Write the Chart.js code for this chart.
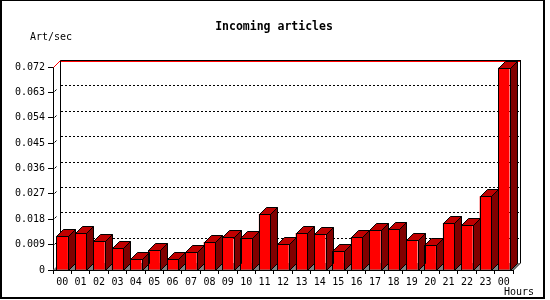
<!DOCTYPE html>
<html>
<head>
<meta charset="utf-8">
<script src="https://cdn.jsdelivr.net/npm/chart.js@4.4.1/dist/chart.umd.min.js"></script>
<style>
    body { margin: 0; background: #fff; }
    #wrap { width: 550px; height: 300px; }
</style>
</head>
<body>
<div id="wrap"><canvas id="articlesChart" width="550" height="300"></canvas></div>
<script>
// Datos del gráfico
const hourLabels = ['00', '01', '02', '03', '04', '05', '06', '07', '08', '09', '10', '11',
    '12', '13', '14', '15', '16', '17', '18', '19', '20', '21', '22', '23', '00'];
const articlesPerSec = [0.0121, 0.0131, 0.0103, 0.0078, 0.0039, 0.0071, 0.0039, 0.0064, 0.0099, 0.0117, 0.0114, 0.0199,
    0.0092, 0.0131, 0.0128, 0.0067, 0.0117, 0.0142, 0.0145, 0.0106, 0.0089, 0.0167, 0.0160, 0.0262, 0.0717];
const yTickLabels = ['0', '0.009', '0.018', '0.027', '0.036', '0.045', '0.054', '0.063', '0.072'];

const DEPTH = 7;
const monoFont = '"DejaVu Sans Mono", "Liberation Mono", monospace';

// Fondo, plano trasero, suelo y rejilla
const backPlanePlugin = {
    id: 'backPlane',
    beforeDraw(chart) {
        const ctx = chart.ctx;
        ctx.save();
        ctx.fillStyle = '#fff';
        ctx.fillRect(0, 0, chart.width, chart.height);
        // marco exterior
        ctx.fillStyle = '#000';
        ctx.fillRect(0, 0, 2, 299);
        ctx.fillRect(0, 0, 545, 1);
        ctx.fillRect(543, 0, 2, 299);
        ctx.fillRect(0, 297, 545, 2);
        ctx.restore();
    },
    beforeDatasetsDraw(chart) {
        const ctx = chart.ctx;
        const area = chart.chartArea;
        const yScale = chart.scales.y;
        const l = Math.round(area.left), r = Math.round(area.right);
        const t = Math.round(area.top), b = Math.round(area.bottom);
        ctx.save();

        // suelo gris
        ctx.fillStyle = '#808080';
        ctx.beginPath();
        ctx.moveTo(l, b);
        ctx.lineTo(r, b);
        ctx.lineTo(r + DEPTH, b - DEPTH);
        ctx.lineTo(l + DEPTH, b - DEPTH);
        ctx.closePath();
        ctx.fill();

        // líneas punteadas
        ctx.strokeStyle = '#000';
        ctx.lineWidth = 1;
        ctx.setLineDash([2, 2]);
        yTickLabels.forEach((lbl, i) => {
            if (i === 0 || i === yTickLabels.length - 1) return;
            const y = Math.round(yScale.getPixelForValue(i * 0.009)) - DEPTH + 0.5;
            ctx.beginPath();
            ctx.moveTo(l + DEPTH + 1, y);
            ctx.lineTo(r + DEPTH, y);
            ctx.stroke();
        });
        ctx.setLineDash([]);

        // pequeñas diagonales en cada marca
        yTickLabels.forEach((lbl, i) => {
            if (i === 0 || i === yTickLabels.length - 1) return;
            const y = Math.round(yScale.getPixelForValue(i * 0.009));
            ctx.beginPath();
            ctx.moveTo(l + 1.5, y - 0.5);
            ctx.lineTo(l + 3.5, y - 2.5);
            ctx.stroke();
        });

        // bordes del plano trasero
        ctx.beginPath();
        ctx.moveTo(l + DEPTH + 0.5, b - DEPTH);
        ctx.lineTo(l + DEPTH + 0.5, t - DEPTH);
        ctx.moveTo(r + DEPTH + 0.5, t - DEPTH);
        ctx.lineTo(r + DEPTH + 0.5, b - DEPTH);
        ctx.lineTo(r + 0.5, b);
        ctx.stroke();

        ctx.beginPath();
        ctx.moveTo(l + DEPTH, t - DEPTH + 0.5);
        ctx.lineTo(r + DEPTH + 1, t - DEPTH + 0.5);
        ctx.stroke();
        ctx.strokeStyle = '#f00';
        ctx.beginPath();
        ctx.moveTo(l + DEPTH + 1, t - DEPTH + 1.5);
        ctx.lineTo(r + DEPTH, t - DEPTH + 1.5);
        ctx.stroke();
        ctx.beginPath();
        ctx.moveTo(l + 0.5, t + 0.5);
        ctx.lineTo(l + DEPTH + 0.5, t - DEPTH + 0.5);
        ctx.stroke();
        ctx.restore();
    },
    afterDatasetsDraw(chart) {
        // caras laterales y superiores de las barras
        const ctx = chart.ctx;
        const meta = chart.getDatasetMeta(0);
        ctx.save();
        ctx.strokeStyle = '#000';
        ctx.lineWidth = 1;
        meta.data.forEach(bar => {
            const x0 = Math.round(bar.x - bar.width / 2) + 0.5;
            const x1 = Math.round(bar.x + bar.width / 2) + 0.5;
            const y = Math.round(bar.y) + 0.5;
            const base = Math.round(bar.base) + 0.5;

            ctx.fillStyle = '#800000';
            ctx.beginPath();
            ctx.moveTo(x1, y);
            ctx.lineTo(x1 + DEPTH, y - DEPTH);
            ctx.lineTo(x1 + DEPTH, base - DEPTH);
            ctx.lineTo(x1, base);
            ctx.closePath();
            ctx.fill();
            ctx.stroke();

            ctx.fillStyle = '#c00000';
            ctx.beginPath();
            ctx.moveTo(x0, y);
            ctx.lineTo(x0 + DEPTH, y - DEPTH);
            ctx.lineTo(x1 + DEPTH, y - DEPTH);
            ctx.lineTo(x1, y);
            ctx.closePath();
            ctx.fill();
            ctx.stroke();

            ctx.beginPath();
            ctx.rect(x0, y, x1 - x0, base - y);
            ctx.stroke();
        });
        ctx.restore();
    },
    afterDraw(chart) {
        const ctx = chart.ctx;
        ctx.save();
        ctx.fillStyle = '#000';
        ctx.textBaseline = 'middle';
        ctx.textAlign = 'center';
        ctx.font = 'bold 11.5px ' + monoFont;
        ctx.fillText('Incoming articles', 274, 27);
        ctx.textAlign = 'left';
        ctx.font = '10px ' + monoFont;
        ctx.fillText('Art/sec', 30, 37);
        ctx.fillText('Hours', 504, 292);
        ctx.restore();
    }
};

new Chart(document.getElementById('articlesChart').getContext('2d'), {
    type: 'bar',
    data: {
        labels: hourLabels,
        datasets: [{
            label: 'Art/sec',
            data: articlesPerSec,
            backgroundColor: '#ff0000',
            borderWidth: 0,
            barPercentage: 0.62,
            categoryPercentage: 1.0
        }]
    },
    options: {
        responsive: false,
        animation: false,
        layout: {
            padding: { top: 67, right: 37, left: 0, bottom: 0 }
        },
        plugins: {
            legend: { display: false },
            tooltip: { enabled: false }
        },
        scales: {
            y: {
                min: 0,
                max: 0.072,
                afterFit: function(scale) { scale.width = 53; },
                afterBuildTicks: function(scale) {
                    scale.ticks = yTickLabels.map((lbl, i) => ({ value: i * 0.009 }));
                },
                ticks: {
                    color: '#000',
                    font: { family: monoFont, size: 10 },
                    padding: 3,
                    callback: function(value, index) { return yTickLabels[index]; }
                },
                grid: {
                    drawOnChartArea: false,
                    color: '#000',
                    tickLength: 5
                },
                border: { color: '#000' }
            },
            x: {
                afterFit: function(scale) { scale.height = 30; },
                ticks: {
                    color: '#000',
                    font: { family: monoFont, size: 10 },
                    padding: 2,
                    maxRotation: 0,
                    autoSkip: false
                },
                grid: {
                    offset: true,
                    drawOnChartArea: false,
                    color: '#000',
                    tickLength: 4
                },
                border: { color: '#000' }
            }
        }
    },
    plugins: [backPlanePlugin]
});
</script>
</body>
</html>
